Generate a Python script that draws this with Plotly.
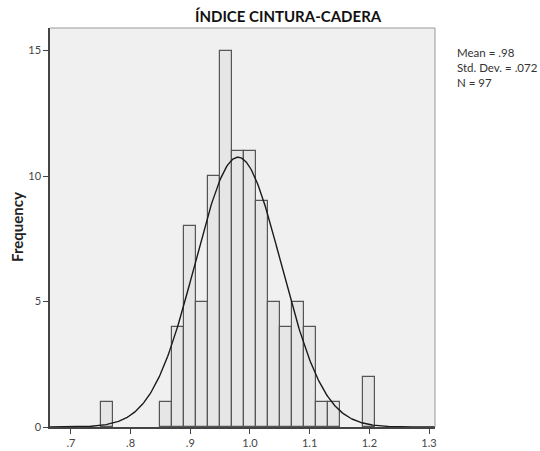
import numpy as np
import plotly.graph_objects as go

# Histogram bins (lower edges) and counts
bin_lower = [0.75, 0.85, 0.87, 0.89, 0.91, 0.93, 0.95, 0.97, 0.99, 1.01,
             1.03, 1.05, 1.07, 1.09, 1.11, 1.13, 1.19]
counts = [1, 1, 4, 8, 5, 10, 15, 11, 11, 9, 5, 4, 5, 4, 1, 1, 2]
bin_width = 0.02

# Summary statistics
mean = 0.98
std_dev = 0.072
n_obs = 97

x_tick_vals = [0.7, 0.8, 0.9, 1.0, 1.1, 1.2, 1.3]
x_tick_text = [".7", ".8", ".9", "1.0", "1.1", "1.2", "1.3"]
y_tick_vals = [0, 5, 10, 15]

x_range = [0.665, 1.31]
y_range = [0, 15.9]

centers = [b + bin_width / 2 for b in bin_lower]

# Normal curve scaled to counts
xc = np.linspace(x_range[0], x_range[1], 400)
yc = n_obs * bin_width / (std_dev * np.sqrt(2 * np.pi)) * np.exp(-0.5 * ((xc - mean) / std_dev) ** 2)

fig = go.Figure()
fig.add_trace(go.Bar(
    x=centers, y=counts, width=bin_width,
    marker=dict(color="#E6E6E6", line=dict(color="#555555", width=1.2)),
    hoverinfo="x+y", showlegend=False,
))
fig.add_trace(go.Scatter(
    x=xc, y=yc, mode="lines",
    line=dict(color="#1a1a1a", width=1.4),
    hoverinfo="skip", showlegend=False,
))

fig.update_layout(
    width=540, height=451,
    margin=dict(l=50, r=105, t=28, b=24),
    paper_bgcolor="white",
    plot_bgcolor="#F0F0F0",
    font=dict(family="Lato, DejaVu Sans, sans-serif", color="#333333", size=11),
    bargap=0,
    showlegend=False,
    xaxis=dict(
        range=x_range, tickvals=x_tick_vals, ticktext=x_tick_text,
        ticks="outside", ticklen=5, tickcolor="#444444", tickwidth=1,
        showgrid=False, zeroline=False, automargin=False,
        showline=True, linecolor="#444444", linewidth=1.5,
        tickfont=dict(size=11, color="#444444"),
    ),
    yaxis=dict(
        range=y_range, tickvals=y_tick_vals,
        ticks="outside", ticklen=5, tickcolor="#444444", tickwidth=1,
        showgrid=False, zeroline=False, automargin=False,
        showline=True, linecolor="#444444", linewidth=1.5,
        tickfont=dict(size=11, color="#444444"),
    ),
)

# Top and right frame of the plot area
fig.add_shape(type="line", xref="paper", yref="paper", x0=0, x1=1, y0=1, y1=1,
              line=dict(color="#999999", width=1))
fig.add_shape(type="line", xref="paper", yref="paper", x0=1, x1=1, y0=0, y1=1,
              line=dict(color="#999999", width=1))

fig.add_annotation(
    text="<b>ÍNDICE CINTURA-CADERA</b>",
    xref="paper", yref="paper", x=(288 - 50) / 385, y=1, yanchor="bottom", xanchor="center",
    yshift=1, showarrow=False, font=dict(size=15, color="#111111"),
)

fig.add_annotation(
    text="<b>Frequency</b>",
    xref="paper", yref="paper", x=0, xshift=-33, y=(427 - 227) / 399,
    xanchor="center", yanchor="middle", textangle=-90,
    showarrow=False, font=dict(size=15, color="#222222"),
)

fig.add_annotation(
    text=f"Mean = .98<br>Std. Dev. = .072<br>N = {n_obs}",
    xref="paper", yref="paper", x=1, xshift=20, y=(427 - 44) / 399, yanchor="top", xanchor="left",
    align="left", showarrow=False, font=dict(size=11.5, color="#333333"),
)

fig.write_html("out.html")
